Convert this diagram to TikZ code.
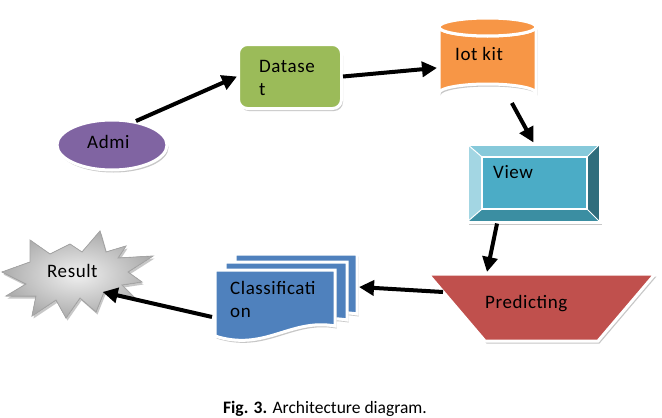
\documentclass[tikz,border=0pt]{standalone}
\usepackage{fontspec}
\setmainfont{Carlito}
\newfontfamily\dfont[LetterSpace=3]{Carlito}
\usetikzlibrary{arrows.meta,shapes.geometric,shadows}
\definecolor{admiC}{HTML}{8064A2}
\definecolor{dataC}{HTML}{9BBB59}
\definecolor{iotC}{HTML}{F79646}
\definecolor{viewC}{HTML}{4BACC6}
\definecolor{viewTop}{HTML}{86C9DA}
\definecolor{viewLeft}{HTML}{A3D6E3}
\definecolor{viewRight}{HTML}{2F6D7C}
\definecolor{viewBot}{HTML}{3B8EA2}
\definecolor{predC}{HTML}{C0504D}
\definecolor{classC}{HTML}{4F81BD}
\begin{document}
\begin{tikzpicture}[x=1pt,y=-1pt,
  shd/.style={drop shadow={shadow xshift=1.5pt,shadow yshift=-2.5pt,opacity=.4,fill=black!55}},
  rim/.style={draw=white,line width=3pt},
  arr/.style={line width=4pt,-{Triangle[length=15pt,width=15pt]}},
  txt/.style={font=\dfont\fontsize{19}{22}\selectfont,anchor=base west,inner sep=0pt},
  anch/.style={inner sep=0pt,outer sep=0pt}]
\fill[white] (0,0) rectangle (662,418);
\useasboundingbox (0,0) rectangle (662,418);

% Admi
\node[ellipse,rim,shd,fill=admiC,minimum width=110pt,minimum height=50pt,inner sep=0pt] (admi) at (112,145) {};
\node[txt] (admiT) at (87,148) {Admi};

% Dataset
\node[rectangle,rounded corners=9pt,rim,shd,fill=dataC,minimum width=103pt,minimum height=64pt] (dataset) at (290,76.5) {};
\node[txt] (dataT1) at (259,72) {Datase};
\node[txt] (dataT2) at (259,95) {t};

% Iot kit cylinder
\node[anch,minimum width=101pt,minimum height=88pt] (iot) at (487.5,59) {};
\filldraw[rim,shd,fill=iotC] (439,27) -- (439,93) arc[start angle=180,end angle=360,x radius=48.5,y radius=9]
  -- (536,27) arc[start angle=0,end angle=180,x radius=48.5,y radius=9] -- cycle;
\filldraw[rim,fill=iotC] (487.5,27) ellipse[x radius=48.5,y radius=9];
\node[txt] (iotT) at (455,60) {Iot kit};

% View bevel
\node[rectangle,rim,shd,fill=viewC,minimum width=133pt,minimum height=78pt,inner sep=0pt] (view) at (533.5,183) {};
\fill[viewTop] (467,144) -- (600,144) -- (587,157) -- (482,157) -- cycle;
\fill[viewLeft] (467,144) -- (482,157) -- (482,209) -- (467,222) -- cycle;
\fill[viewRight] (600,144) -- (600,222) -- (587,209) -- (587,157) -- cycle;
\fill[viewBot] (467,222) -- (482,209) -- (587,209) -- (600,222) -- cycle;
\draw[white,line width=1pt] (467,144) -- (482,157) (600,144) -- (587,157) (600,222) -- (587,209) (467,222) -- (482,209);
\draw[white,line width=1.5pt,fill=viewC] (482,157) rectangle (587,209);
\draw[white,line width=3pt] (467,144) rectangle (600,222);
\node[txt] (viewT) at (493,178) {View};

% Predicting
\filldraw[rim,shd,fill=predC] (428,274) -- (655,274) -- (598,341) -- (485,341) -- cycle;
\node[anch,minimum width=227pt,minimum height=67pt] (predict) at (541.5,307.5) {};
\coordinate (predIn) at (487,272);
\coordinate (predOut) at (443,292);
\node[txt] (predT) at (485,308) {Predicting};

% Classification stack
\node[anch,minimum width=147pt,minimum height=94pt] (classif) at (285.5,300) {};
\filldraw[rim,shd,fill=classC] (235,254) -- (357,254) -- (357,314) .. controls (312,306) and (287,340) .. (235,324) -- cycle;
\filldraw[rim,shd,fill=classC] (225,262) -- (347,262) -- (347,320) .. controls (302,312) and (277,346) .. (225,330) -- cycle;
\filldraw[rim,shd,fill=classC] (215,270) -- (335,270) -- (335,326) .. controls (290,318) and (265,352) .. (215,336) -- cycle;
\node[txt] (classT1) at (230,294) {Classificati};
\node[txt] (classT2) at (230,317) {on};

% Result starburst
\filldraw[draw=gray!70,line width=0.8pt,inner color=gray!12,outer color=gray!65,shd]
  (2,272) -- (30,262) -- (30,240) -- (50,254) -- (70,244) -- (82,252) -- (100,231) -- (106,252)
  -- (126,246) -- (118,258) -- (153,256) -- (128,272) -- (142,282) -- (122,285) -- (136,299)
  -- (104,292) -- (96,312) -- (80,298) -- (66,318) -- (56,300) -- (32,316) -- (36,296)
  -- (6,296) -- (26,284) -- cycle;
\node[ellipse,anch,minimum width=74pt,minimum height=50pt] (result) at (77,274) {};
\node[txt] (resT) at (47,277) {Result};

% Connectors
\draw[arr] (admi.45) -- (dataset.west);
\draw[arr] (dataset.east) -- (iot.190);
\draw[arr] (iot.299) -- (view.north);
\draw[arr] (view.228) -- (predIn);
\draw[arr] (predOut) -- (classif.10);
\draw[arr] (classif.193) -- (result.-35);

% Caption
\node[font=\fontsize{17.5}{20}\selectfont,anchor=base,inner sep=0pt] (cap) at (325,413) {\textbf{Fig. 3.} Architecture diagram.};
\end{tikzpicture}
\end{document}
